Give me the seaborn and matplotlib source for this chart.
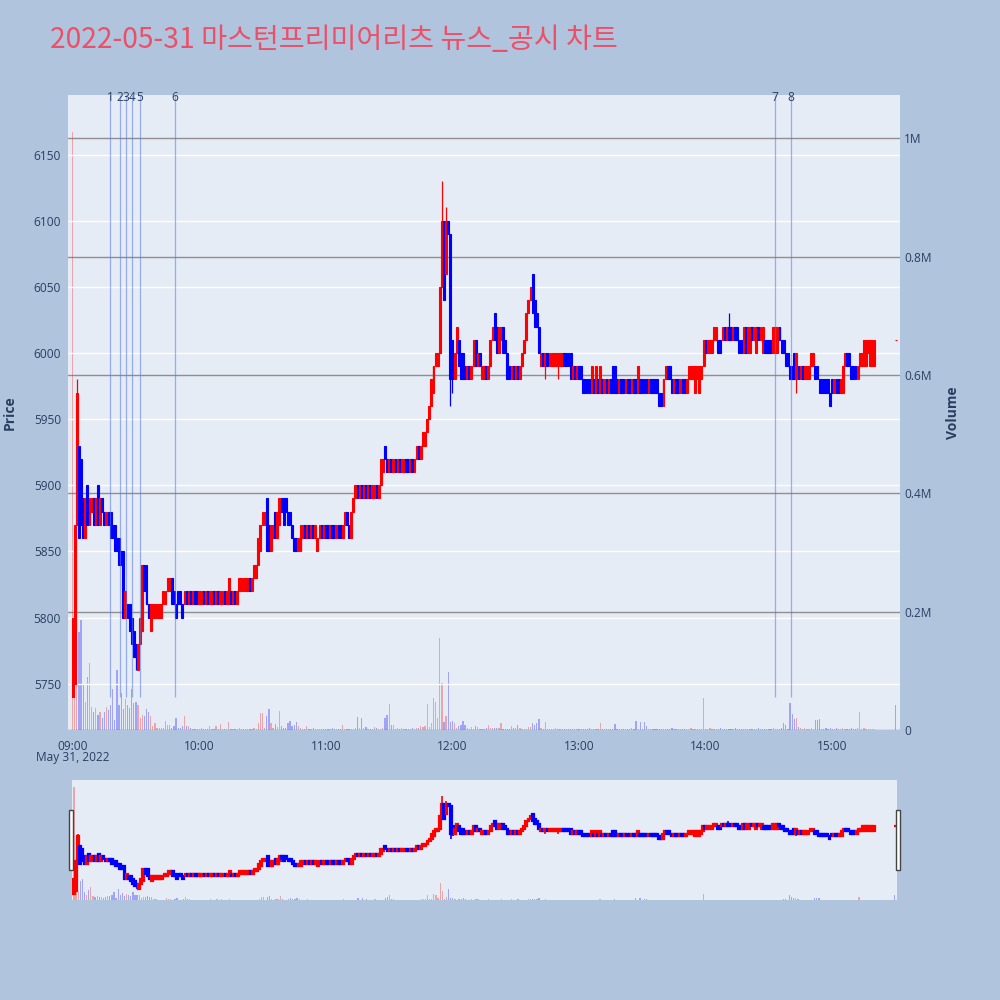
import matplotlib
matplotlib.use("Agg")
import matplotlib.pyplot as plt
from matplotlib.patches import Rectangle
import seaborn as sns
import pandas as pd

title = "2022-05-31 마스턴프리미어리츠 뉴스_공시 차트"

# minutes after 09:00 (continuous session till 15:20, closing auction at 15:30)
minutes = list(range(381)) + [390]

opens = [
    5740, 5750, 5870, 5930, 5920, 5890, 5860, 5900, 5870, 5880,  # 0
    5890, 5870, 5900, 5870, 5890, 5880, 5870, 5880, 5880, 5870,
    5870, 5860, 5860, 5850, 5850, 5800, 5810, 5810, 5800, 5790,
    5780, 5760, 5780, 5790, 5840, 5840, 5810, 5790, 5800, 5800,
    5800, 5800, 5800, 5810, 5810, 5820, 5820, 5830, 5820, 5810,
    5820, 5820, 5810, 5810, 5820, 5810, 5820, 5810, 5820, 5820,
    5810, 5810, 5820, 5810, 5820, 5810, 5810, 5820, 5810, 5820,  # 60
    5810, 5810, 5820, 5810, 5810, 5820, 5810, 5820, 5810, 5820,
    5820, 5820, 5820, 5820, 5830, 5820, 5830, 5830, 5840, 5850,
    5870, 5870, 5890, 5870, 5850, 5860, 5880, 5860, 5870, 5890,
    5890, 5890, 5880, 5880, 5870, 5860, 5860, 5850, 5850, 5860,
    5870, 5860, 5870, 5860, 5870, 5860, 5850, 5860, 5870, 5860,
    5870, 5870, 5860, 5870, 5870, 5860, 5870, 5870, 5860, 5870,  # 120
    5880, 5870, 5860, 5880, 5890, 5900, 5890, 5900, 5890, 5900,
    5890, 5900, 5890, 5890, 5900, 5890, 5900, 5910, 5930, 5920,
    5910, 5920, 5910, 5920, 5910, 5920, 5910, 5910, 5920, 5920,
    5910, 5920, 5910, 5920, 5930, 5920, 5930, 5930, 5940, 5950,
    5960, 5970, 5990, 5990, 6000, 6050, 6100, 6060, 6100, 6090,
    6010, 5980, 6000, 6010, 6000, 6000, 5990, 5980, 5990, 5980,  # 180
    5990, 6010, 5990, 6000, 5980, 5980, 5990, 5980, 5990, 6010,
    6030, 6020, 6000, 6010, 6020, 6010, 6000, 5990, 5980, 5990,
    5980, 5990, 5980, 5990, 6000, 6010, 6030, 6040, 6060, 6040,
    6030, 6020, 5990, 6000, 5990, 6000, 5990, 5990, 5990, 5990,
    5990, 5990, 5990, 6000, 6000, 6000, 6000, 5980, 5990, 5980,
    5990, 5990, 5980, 5980, 5980, 5980, 5970, 5980, 5970, 5980,  # 240
    5970, 5980, 5970, 5980, 5970, 5980, 5990, 5990, 5980, 5970,
    5980, 5980, 5970, 5980, 5980, 5970, 5980, 5980, 5970, 5980,
    5980, 5980, 5980, 5970, 5980, 5980, 5980, 5980, 5970, 5970,
    5960, 5980, 5990, 5990, 5980, 5970, 5980, 5980, 5970, 5980,
    5980, 5970, 5980, 5980, 5980, 5970, 5980, 5970, 5980, 5990,
    6010, 6000, 6000, 6000, 6010, 6010, 6010, 6010, 6010, 6020,  # 300
    6010, 6020, 6020, 6010, 6020, 6020, 6010, 6010, 6000, 6020,
    6000, 6000, 6020, 6010, 6000, 6020, 6010, 6000, 6010, 6010,
    6010, 6010, 6000, 6000, 6000, 6020, 6010, 6010, 6000, 6000,
    5990, 5990, 6000, 5980, 5990, 5980, 5990, 5980, 5980, 5980,
    5990, 5990, 5990, 5990, 5980, 5980, 5980, 5980, 5980, 5970,
    5980, 5970, 5980, 5980, 5970, 5970, 5990, 6000, 6000, 5990,  # 360
    5990, 5990, 5980, 5990, 5990, 5990, 5990, 6000, 5990, 5990,
    5990,
    6010,
]

closes = [
    5800, 5870, 5970, 5860, 5870, 5860, 5890, 5870, 5890, 5890,  # 0
    5870, 5890, 5870, 5890, 5880, 5870, 5880, 5870, 5860, 5860,
    5850, 5850, 5840, 5840, 5800, 5820, 5800, 5790, 5780, 5770,
    5770, 5780, 5800, 5840, 5820, 5810, 5800, 5810, 5810, 5810,
    5810, 5810, 5810, 5820, 5820, 5830, 5830, 5810, 5810, 5800,
    5810, 5810, 5800, 5820, 5810, 5820, 5810, 5820, 5810, 5810,
    5820, 5820, 5810, 5820, 5810, 5820, 5820, 5810, 5820, 5810,  # 60
    5820, 5820, 5810, 5820, 5830, 5810, 5820, 5810, 5820, 5830,
    5830, 5830, 5830, 5830, 5820, 5830, 5840, 5840, 5860, 5870,
    5880, 5880, 5850, 5850, 5870, 5870, 5860, 5880, 5890, 5880,
    5870, 5880, 5870, 5870, 5860, 5850, 5850, 5860, 5870, 5870,
    5860, 5870, 5860, 5870, 5860, 5870, 5860, 5870, 5860, 5870,
    5860, 5860, 5870, 5860, 5860, 5870, 5860, 5860, 5870, 5880,  # 120
    5870, 5860, 5880, 5890, 5900, 5890, 5900, 5890, 5900, 5890,
    5900, 5890, 5900, 5900, 5890, 5900, 5920, 5920, 5920, 5910,
    5920, 5910, 5920, 5910, 5920, 5910, 5920, 5920, 5910, 5910,
    5920, 5910, 5920, 5930, 5920, 5930, 5940, 5940, 5950, 5960,
    5980, 5990, 6000, 6000, 6050, 6100, 6040, 6100, 6090, 5980,
    5980, 6000, 6020, 5990, 5980, 5980, 5980, 5990, 5980, 5990,  # 180
    6010, 5990, 6000, 5990, 5990, 5990, 5980, 5990, 6010, 6020,
    6010, 6000, 6020, 6020, 6000, 6000, 5980, 5980, 5990, 5980,
    5990, 5980, 5990, 6000, 6010, 6030, 6040, 6050, 6030, 6020,
    6020, 6000, 6000, 5990, 6000, 5990, 6000, 6000, 6000, 6000,
    6000, 6000, 6000, 5990, 5990, 5990, 5980, 5990, 5980, 5990,
    5980, 5980, 5970, 5970, 5970, 5970, 5990, 5970, 5990, 5970,  # 240
    5990, 5970, 5980, 5970, 5980, 5970, 5970, 5970, 5970, 5980,
    5970, 5970, 5980, 5970, 5970, 5980, 5970, 5970, 5990, 5970,
    5970, 5970, 5970, 5980, 5970, 5970, 5970, 5970, 5960, 5960,
    5980, 5990, 5980, 5980, 5970, 5980, 5970, 5970, 5980, 5970,
    5970, 5980, 5990, 5990, 5990, 5990, 5990, 5990, 5990, 6010,
    6000, 6010, 6010, 6010, 6020, 6020, 6000, 6000, 6020, 6010,  # 300
    6020, 6010, 6010, 6020, 6010, 6010, 6000, 6000, 6020, 6000,
    6020, 6020, 6010, 6020, 6020, 6010, 6020, 6020, 6000, 6000,
    6000, 6000, 6020, 6020, 6020, 6010, 6000, 6000, 5990, 5990,
    5980, 5980, 5980, 6000, 5980, 5990, 5980, 5990, 5990, 5990,
    6000, 6000, 5980, 5980, 5970, 5970, 5970, 5970, 5970, 5960,
    5970, 5980, 5970, 5970, 5980, 5990, 6000, 5990, 5990, 5980,  # 360
    5980, 5980, 5990, 6000, 6000, 6010, 6010, 6010, 6010, 6010,
    6010,
    6010,
]

# wick extremes beyond the candle body
wick_high = {2: 5980, 175: 6130, 177: 6110, 311: 6030}
wick_low = {0: 5740, 30: 5760, 179: 5960, 180: 5970, 224: 5980, 230: 5980, 343: 5970}

# traded volume per minute, thousands of shares
volumes_k = [
    1010, 95, 76, 166, 186, 76, 47, 90, 114, 39,  # 0
    31, 38, 25, 31, 20, 31, 39, 34, 42, 69,
    17, 101, 42, 62, 36, 53, 42, 38, 69, 45,
    47, 42, 20, 25, 23, 35, 31, 23, 6, 11,
    3, 4, 4, 4, 15, 8, 8, 3, 7, 21,
    3, 4, 7, 24, 6, 6, 3, 2, 1, 2,
    1, 4, 2, 1, 2, 7, 1, 2, 6, 1,  # 60
    10, 2, 1, 2, 13, 1, 2, 1, 2, 4,
    1, 2, 1, 2, 1, 2, 3, 1, 11, 28,
    28, 4, 23, 35, 11, 3, 10, 5, 32, 6,
    3, 3, 11, 15, 6, 8, 14, 6, 4, 1,
    2, 6, 2, 1, 4, 1, 1, 2, 1, 1,
    2, 1, 2, 4, 1, 1, 2, 1, 8, 1,  # 120
    1, 2, 1, 1, 3, 22, 4, 20, 3, 5,
    1, 1, 1, 5, 3, 1, 1, 3, 20, 26,
    44, 8, 8, 1, 3, 1, 4, 1, 2, 1,
    2, 3, 1, 4, 4, 6, 5, 7, 44, 5,
    11, 54, 47, 20, 156, 79, 13, 24, 98, 14,
    16, 11, 4, 7, 8, 16, 8, 3, 1, 5,  # 180
    2, 7, 5, 1, 1, 2, 4, 8, 3, 4,
    4, 3, 4, 11, 1, 2, 2, 2, 6, 3,
    4, 8, 4, 1, 2, 1, 5, 5, 12, 8,
    11, 19, 3, 1, 13, 1, 2, 1, 1, 4,
    2, 2, 1, 1, 1, 2, 1, 1, 1, 2,
    1, 1, 2, 1, 1, 3, 1, 1, 2, 1,  # 240
    12, 1, 2, 1, 1, 2, 1, 10, 1, 2,
    1, 1, 2, 1, 1, 3, 1, 15, 2, 14,
    1, 13, 6, 2, 1, 1, 2, 1, 1, 2,
    1, 2, 1, 1, 3, 1, 1, 2, 1, 1,
    2, 1, 1, 3, 1, 1, 2, 1, 1, 54,
    2, 1, 3, 1, 2, 1, 1, 4, 1, 2,  # 300
    1, 2, 1, 1, 3, 1, 2, 1, 1, 2,
    1, 1, 2, 1, 1, 3, 1, 1, 2, 1,
    2, 1, 3, 1, 2, 1, 4, 11, 8, 2,
    46, 27, 19, 21, 5, 4, 2, 4, 1, 2,
    3, 2, 17, 17, 19, 2, 1, 3, 1, 4,
    1, 2, 3, 1, 2, 4, 2, 1, 2, 3,  # 360
    2, 1, 3, 31, 2, 3, 1, 2, 1, 2,
    1,
    42,
]

# news / disclosure markers (minutes after 09:00)
event_minutes = [17.9, 22.3, 25.4, 28.1, 31.8, 48.3, 332.9, 340.5]
event_labels = ["1", "2", "3", "4", "5", "6", "7", "8"]

price_ticks = [5750, 5800, 5850, 5900, 5950, 6000, 6050, 6100, 6150]
volume_ticks = [0, 200000, 400000, 600000, 800000, 1000000]
volume_tick_labels = ["0", "0.2M", "0.4M", "0.6M", "0.8M", "1M"]
hour_ticks = [0, 60, 120, 180, 240, 300, 360]
hour_labels = ["09:00", "10:00", "11:00", "12:00", "13:00", "14:00", "15:00"]

UP = "#FF0000"
DOWN = "#0000FF"
PLOT_BG = "#E5ECF6"
PAPER_BG = "#B0C4DE"
FONT_COLOR = "#2a3f5f"

sns.set_theme(style="darkgrid")
plt.rcParams["font.family"] = ["Open Sans", "Noto Sans CJK KR", "DejaVu Sans"]

highs = [max(o, c, wick_high.get(m, 0)) for m, o, c in zip(minutes, opens, closes)]
lows = [min(o, c, wick_low.get(m, 99999)) for m, o, c in zip(minutes, opens, closes)]
colors = [UP if c >= o else DOWN for o, c in zip(opens, closes)]

vol_df = pd.DataFrame({
    "minute": minutes,
    "volume": [v * 1000 for v in volumes_k],
    "dir": ["up" if c > o else "down" for o, c in zip(opens, closes)],
})

PRICE_LIM = (5715, 6195)
VOL_LIM = (0, 1073000)


def draw_candles(ax, body_lw, wick_lw):
    bottoms = [min(o, c) for o, c in zip(opens, closes)]
    heights = [abs(c - o) for o, c in zip(opens, closes)]
    ax.vlines(minutes, lows, highs, colors=colors, linewidth=wick_lw, zorder=3)
    ax.bar(minutes, heights, bottom=bottoms, width=0.9, color=colors,
           edgecolor=colors, linewidth=body_lw, zorder=4)


def draw_volume(ax):
    sns.barplot(data=vol_df, x="minute", y="volume", hue="dir",
                palette={"up": UP, "down": DOWN}, native_scale=True,
                dodge=False, width=0.6, alpha=0.3, saturation=1,
                errorbar=None, legend=False, linewidth=0, ax=ax)
    ax.set_xlabel("")
    ax.set_ylabel("")


fig = plt.figure(figsize=(10, 10), dpi=100, facecolor=PAPER_BG)

# ---- main chart
ax = fig.add_axes([0.068, 0.27, 0.832, 0.635])
ax_vol = ax.twinx()
ax.set_zorder(ax_vol.get_zorder() + 1)
ax.patch.set_visible(False)
ax_vol.patch.set_visible(True)
ax_vol.set_facecolor(PLOT_BG)

draw_volume(ax_vol)
ax_vol.set_ylim(*VOL_LIM)
ax_vol.set_yticks(volume_ticks)
ax_vol.set_yticklabels(volume_tick_labels)
ax_vol.grid(False)
ax_vol.grid(axis="y", color="#8f8f8f", linewidth=1)
ax_vol.grid(axis="x", visible=False)
ax_vol.tick_params(axis="y", length=0, pad=3, labelsize=8.6, labelcolor=FONT_COLOR)

draw_candles(ax, body_lw=0.8, wick_lw=0.9)
ax.set_ylim(*PRICE_LIM)
ax.set_yticks(price_ticks)
ax.grid(False)
ax.grid(axis="y", color="white", linewidth=1)
ax.tick_params(axis="y", length=0, pad=5, labelsize=8.6, labelcolor=FONT_COLOR)
ax.set_xticks(hour_ticks)
ax.set_xticklabels(hour_labels)
ax.tick_params(axis="x", length=0, pad=7, labelsize=8.6, labelcolor=FONT_COLOR)
ax_vol.tick_params(axis="x", length=0)
ax.set_xlim(-2.2, 392.1)
ax_vol.set_xlim(-2.2, 392.1)

for a in (ax, ax_vol):
    for s in a.spines.values():
        s.set_visible(False)

# event markers
ax.vlines(event_minutes, 5740, PRICE_LIM[1], colors="#5578E8", alpha=0.55,
          linewidth=0.9, zorder=5)
for ev, lab in zip(event_minutes, event_labels):
    ax.text(ev, PRICE_LIM[1] - 2, lab, ha="center", va="center", fontsize=8.6,
            color=FONT_COLOR, clip_on=False, zorder=6)

fig.text(0.073, 0.242, "May 31, 2022", ha="center", va="center", fontsize=8.6,
         color=FONT_COLOR)
fig.text(0.010, 0.5875, "Price", rotation=90, ha="center", va="center",
         fontsize=10, fontweight="bold", color=FONT_COLOR)
fig.text(0.953, 0.5875, "Volume", rotation=90, ha="center", va="center",
         fontsize=10, fontweight="bold", color=FONT_COLOR)

fig.text(0.05, 0.96, title, ha="left", va="center", fontsize=20.3, color="#EC5068",
         family=["Noto Sans CJK KR", "DejaVu Sans"])

# ---- range slider
ax_s = fig.add_axes([0.072, 0.10, 0.825, 0.12])
ax_s_vol = ax_s.twinx()
ax_s.set_zorder(ax_s_vol.get_zorder() + 1)
ax_s.patch.set_visible(False)
ax_s_vol.patch.set_visible(True)
ax_s_vol.set_facecolor(PLOT_BG)
draw_volume(ax_s_vol)
ax_s_vol.set_ylim(*VOL_LIM)
draw_candles(ax_s, body_lw=1.6, wick_lw=1.2)
ax_s.set_ylim(*PRICE_LIM)
for a in (ax_s, ax_s_vol):
    a.set_xlim(-0.95, 391.1)
    a.grid(False)
    a.set_xticks([])
    a.set_yticks([])
    for s in a.spines.values():
        s.set_visible(False)

for hx in (0.0685, 0.8955):
    fig.patches.append(Rectangle((hx, 0.13), 0.004, 0.06, transform=fig.transFigure,
                                 facecolor="white", edgecolor="#444444", linewidth=1))

fig.savefig("out.png", dpi=100, facecolor=PAPER_BG)
